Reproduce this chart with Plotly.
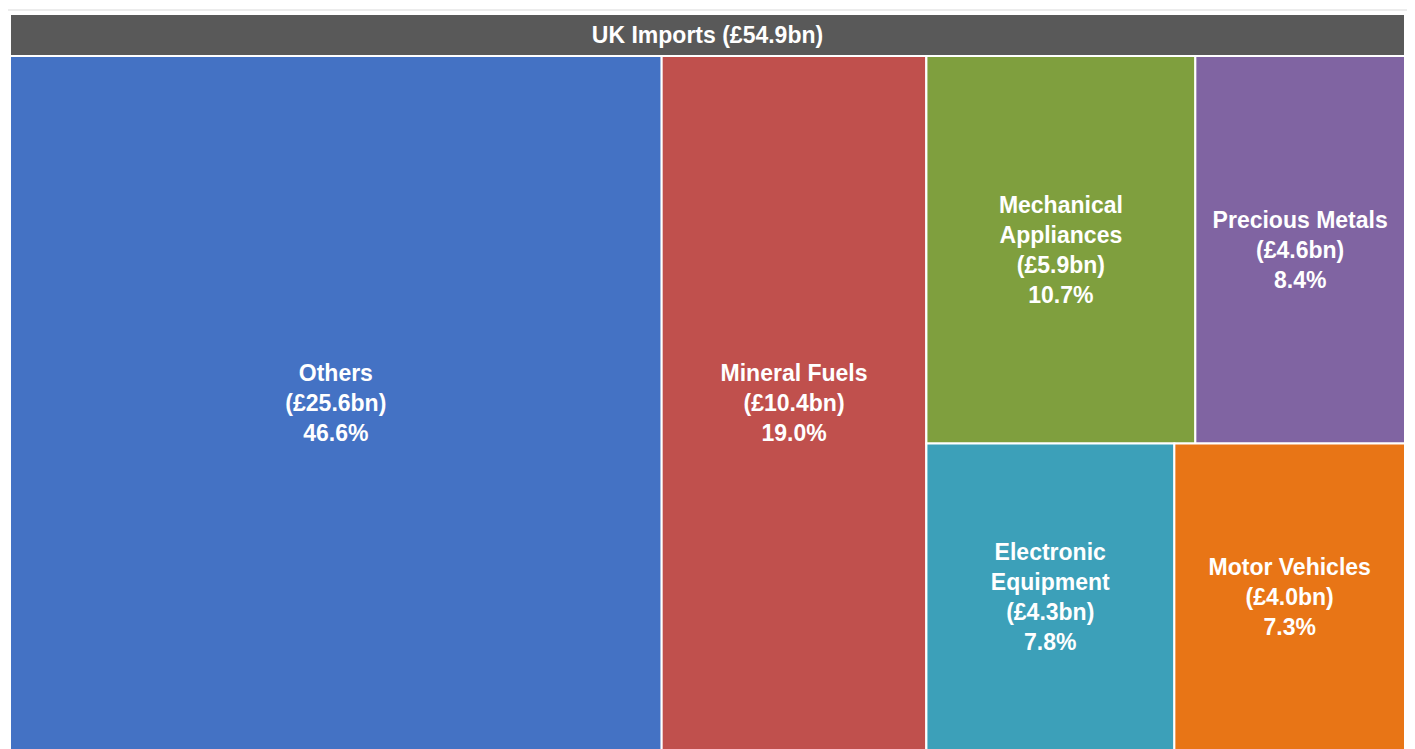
import plotly.graph_objects as go

# ---- data ----
root_label = "UK Imports (£54.9bn)"
categories = ["Others", "Mineral Fuels", "Mechanical Appliances", "Precious Metals",
              "Electronic Equipment", "Motor Vehicles"]
display_names = ["Others", "Mineral Fuels", "Mechanical<br>Appliances", "Precious Metals",
                 "Electronic<br>Equipment", "Motor Vehicles"]
values_bn = [25.6, 10.4, 5.9, 4.6, 4.3, 4.0]
shares_pct = [46.6, 19.0, 10.7, 8.4, 7.8, 7.3]
# grouping used only to reproduce the tile arrangement of the reference
tile_group = ["", "", "G", "G", "G", "G"]
colors = ["#4472C4", "#C0504D", "#7F9F3E", "#8064A2", "#3CA0B9", "#E87516"]
root_color = "#595959"

# ---- build hierarchy for the body treemap ----
ids, labels, parents, values, texts, mcolors = [], [], [], [], [], []
ids.append("G"); labels.append("Group"); parents.append(""); values.append(0)
texts.append(""); mcolors.append("#ffffff")
for c, n, v, p, g, col in zip(categories, display_names, values_bn, shares_pct,
                               tile_group, colors):
    ids.append(c); labels.append(c); parents.append(g); values.append(v)
    texts.append(f"{n}<br>(£{v:.1f}bn)<br>{p:.1f}%")
    mcolors.append(col)

# order: Others, Mineral Fuels, then group
order = [1, 2, 0, 3, 4, 5, 6]
ids = [ids[i] for i in order]
labels = [labels[i] for i in order]
parents = [parents[i] for i in order]
values = [values[i] for i in order]
texts = [texts[i] for i in order]
mcolors = [mcolors[i] for i in order]

font = dict(family="Liberation Sans, Arial, sans-serif", size=23,
            color="white", weight="bold")
header_font = dict(family="Liberation Sans, Arial, sans-serif", size=23.5,
                   color="white", weight="bold")

W, H = 1407, 742
ML, MR, MT, MB = 2, 10, 6, 0
plot_h = H - MT - MB
plot_w = W - ML - MR
header_px = 42
split = 1 - header_px / plot_h

fig = go.Figure()

# header strip (root node)
fig.add_trace(go.Treemap(
    ids=[root_label], labels=[root_label], parents=[""], values=[sum(values_bn)],
    text=[root_label], texttemplate="%{text}", textposition="middle center",
    marker=dict(colors=[root_color], line=dict(color="white", width=2)),
    textfont=header_font, pathbar=dict(visible=False), hoverinfo="label",
    domain=dict(x=[0, 1], y=[split, 1]),
))

# body treemap
fig.add_trace(go.Treemap(
    ids=ids, labels=labels, parents=parents, values=values, text=texts,
    branchvalues="remainder",
    texttemplate="%{text}",
    textposition="middle center",
    hoverinfo="label+value",
    marker=dict(colors=mcolors, line=dict(color="white", width=2),
                pad=dict(t=0, l=0, r=0, b=0)),
    textfont=font,
    pathbar=dict(visible=False),
    tiling=dict(packing="squarify", pad=0),
    sort=False,
    domain=dict(x=[0, 1], y=[0, split]),
))

# light outer frame (top and right edges) as in the reference
top_y = 1 + (MT - 2) / plot_h
right_x = (1405 - ML) / plot_w
fig.add_shape(type="line", xref="paper", yref="paper", x0=-ML / plot_w, x1=right_x,
              y0=top_y, y1=top_y, line=dict(color="#D9D9D9", width=1))
fig.add_shape(type="line", xref="paper", yref="paper", x0=right_x, x1=right_x,
              y0=top_y, y1=-0.01, line=dict(color="#D9D9D9", width=1))

fig.update_layout(
    width=W, height=H,
    margin=dict(l=ML, r=MR, t=MT, b=MB),
    paper_bgcolor="white",
    uniformtext=dict(minsize=20, mode="show"),
)

fig.write_html("out.html")
